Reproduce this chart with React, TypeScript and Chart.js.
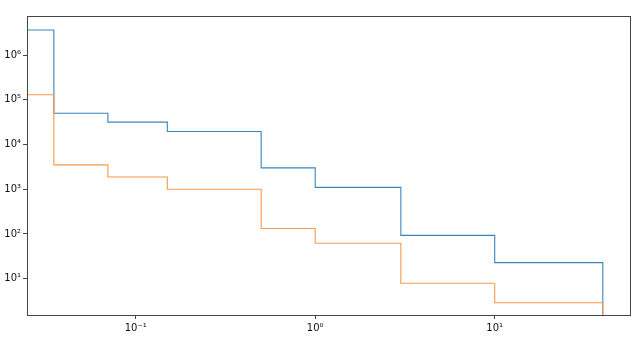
import React, { useEffect, useRef } from "react";
import { Chart, registerables } from "chart.js";

Chart.register(...registerables);

// Bin edges (first edge 0 is clipped on log axis -> start at axis minimum)
const binEdges = [0.035, 0.07, 0.15, 0.5, 1, 3, 10, 40];
const seriesA = [3.62e6, 5.0e4, 3.16e4, 1.95e4, 3.0e3, 1.1e3, 93, 22.8];
const seriesB = [1.29e5, 3.5e3, 1.88e3, 1.0e3, 132, 62, 7.9, 2.9];
const xTickValues = [0.1, 1, 10];
const xTickLabels = ["10\u207B\u00B9", "10\u2070", "10\u00B9"];
const yTickValues = [10, 100, 1000, 1e4, 1e5, 1e6];
const yTickLabels = ["10\u00B9", "10\u00B2", "10\u00B3", "10\u2074", "10\u2075", "10\u2076"];
const xMin = 0.0248;
const xMax = 56.7;
const yMin = 1.54;
const yMax = 7.45e6;

function stepPoints(values: number[]) {
  const pts: { x: number; y: number }[] = [];
  const starts = [xMin, ...binEdges.slice(0, -1)];
  values.forEach((v, i) => pts.push({ x: starts[i], y: v }));
  pts.push({ x: binEdges[binEdges.length - 1], y: yMin * 0.5 });
  return pts;
}

const boxPlugin = {
  id: "box",
  afterDatasetsDraw(chart: any) {
    const { ctx, chartArea } = chart;
    ctx.save();
    ctx.strokeStyle = "#444";
    ctx.lineWidth = 1;
    ctx.strokeRect(
      Math.round(chartArea.left) + 0.5,
      Math.round(chartArea.top) + 0.5,
      Math.round(chartArea.right - chartArea.left),
      Math.round(chartArea.bottom - chartArea.top)
    );
    ctx.restore();
  },
};

export default function App() {
  const ref = useRef<HTMLCanvasElement>(null);
  useEffect(() => {
    document.body.style.margin = "0";
    const font = { family: "DejaVu Sans", size: 10 };
    const chart = new Chart(ref.current!, {
      type: "line",
      data: {
        datasets: [
          {
            data: stepPoints(seriesA),
            borderColor: "#3a85ba",
            borderWidth: 1.1,
            stepped: "before",
            pointRadius: 0,
            fill: false,
            order: 1,
          },
          {
            data: stepPoints(seriesB),
            borderColor: "#f59a4a",
            borderWidth: 1.1,
            stepped: "before",
            pointRadius: 0,
            fill: false,
            order: 0,
          },
        ],
      },
      options: {
        responsive: false,
        animation: false,
        layout: { padding: { top: 16, right: 7, left: 0, bottom: 0 } },
        plugins: { legend: { display: false }, tooltip: { enabled: false } },
        scales: {
          x: {
            type: "logarithmic",
            min: xMin,
            max: xMax,
            afterBuildTicks: (s: any) => {
              s.ticks = xTickValues.map((v) => ({ value: v }));
            },
            afterFit: (s: any) => {
              s.height = 27;
            },
            grid: { drawOnChartArea: false, drawTicks: true, tickLength: 4, color: "#444" },
            border: { display: false },
            ticks: {
              font,
              color: "#111",
              padding: 3,
              maxRotation: 0,
              autoSkip: false,
              callback: (v: any) => {
                const i = xTickValues.indexOf(Number(v));
                return i >= 0 ? xTickLabels[i] : "";
              },
            },
          },
          y: {
            type: "logarithmic",
            min: yMin,
            max: yMax,
            afterBuildTicks: (s: any) => {
              s.ticks = yTickValues.map((v) => ({ value: v }));
            },
            afterFit: (s: any) => {
              s.width = 27;
            },
            grid: { drawOnChartArea: false, drawTicks: true, tickLength: 4, color: "#444" },
            border: { display: false },
            ticks: {
              font,
              color: "#111",
              padding: 2,
              autoSkip: false,
              callback: (v: any) => {
                const i = yTickValues.indexOf(Number(v));
                return i >= 0 ? yTickLabels[i] : "";
              },
            },
          },
        },
      },
      plugins: [boxPlugin],
    });
    return () => chart.destroy();
  }, []);
  return <canvas ref={ref} width={637} height={342} />;
}
